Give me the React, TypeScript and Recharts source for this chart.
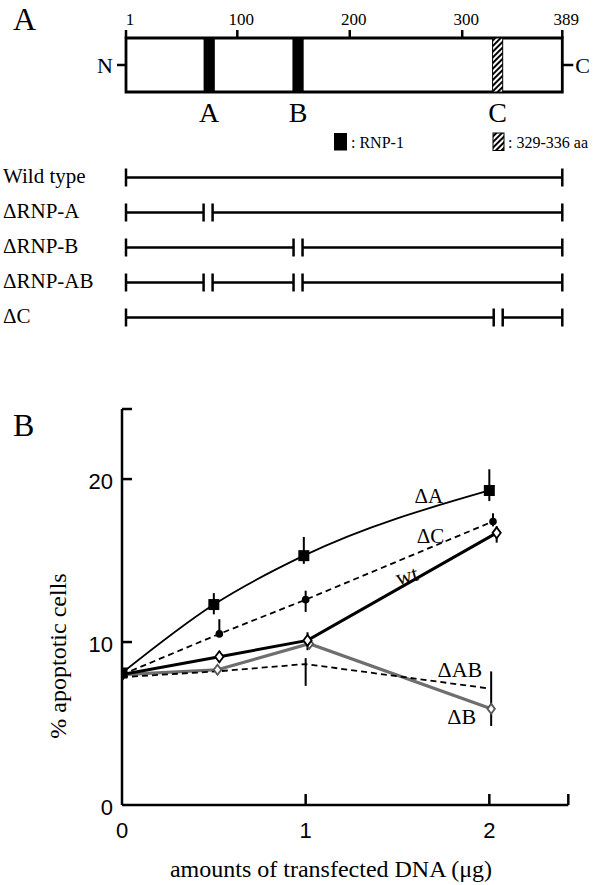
import React from 'react';
import {
  ComposedChart,
  LineChart,
  Line,
  XAxis,
  YAxis,
  ReferenceArea,
  ReferenceLine,
  ReferenceDot,
  ErrorBar,
  Label,
} from 'recharts';

const SERIF = '"Liberation Serif", "Times New Roman", serif';
const SANS = '"Liberation Sans", Arial, sans-serif';

// ---------------- Panel A data ----------------
const RESIDUE_RANGE = [1, 389];
const RESIDUE_TICKS = [1, 100, 200, 300, 389];
const TERMINI = [{ nTerm: 'N', cTerm: 'C' }];
const RNP_BLOCKS = [
  { name: 'A', from: 70, to: 80 },
  { name: 'B', from: 149, to: 159 },
];
const C_REGION = [{ name: 'C', from: 327, to: 336 }];
const LEGEND_TEXT = [': RNP-1', ': 329-336 aa'];
const CONSTRUCTS = ['Wild type', 'ΔRNP-A', 'ΔRNP-B', 'ΔRNP-AB', 'ΔC'];
const CONSTRUCT_SEGMENTS = [
  [[1, 389]],
  [[1, 70], [78, 389]],
  [[1, 150], [158, 389]],
  [[1, 70], [78, 150], [158, 389]],
  [[1, 328], [336, 389]],
];

// ---------------- Panel B data ----------------
const DOSE_DOMAIN = [0, 2.43];
const DOSE_TICKS = [0, 1, 2];
const PCT_DOMAIN = [0, 24.3];
const PCT_TICKS = [0, 10, 20];
const X_TITLE = 'amounts of transfected DNA (μg)';
const Y_TITLE = '% apoptotic cells';

const DELTA_A = [
  { dose: 0, pct: 8.1 },
  { dose: 0.5, pct: 12.3, err: [0.6, 0.7] },
  { dose: 0.99, pct: 15.3, err: [0.5, 1.15] },
  { dose: 2.0, pct: 19.3, err: [0.65, 1.3] },
];
const DELTA_C = [
  { dose: 0, pct: 8.0 },
  { dose: 0.53, pct: 10.5, err: [0.1, 0.9] },
  { dose: 1.0, pct: 12.6, err: [0.75, 0.55] },
  { dose: 2.02, pct: 17.4, err: [0.3, 0.5] },
];
const WT = [
  { dose: 0, pct: 8.0 },
  { dose: 0.53, pct: 9.1, err: [0.35, 0.35] },
  { dose: 1.01, pct: 10.1, err: [0.6, 0.5] },
  { dose: 2.04, pct: 16.7, err: [0.6, 0.4] },
];
const DELTA_B = [
  { dose: 0, pct: 8.0 },
  { dose: 0.52, pct: 8.3 },
  { dose: 1.02, pct: 9.9 },
  { dose: 2.01, pct: 5.9, err: [1.05, 2.3] },
];
const DELTA_AB = [
  { dose: 0, pct: 7.85 },
  { dose: 0.52, pct: 8.2 },
  { dose: 1.0, pct: 8.65, err: [1.34, 0.36] },
  { dose: 2.0, pct: 7.15 },
];

const SERIES_NAMES = ['ΔA', 'ΔC', 'wt', 'ΔAB', 'ΔB'];
const SERIES_LABEL_DOSE = [1.67, 1.68, 1.55, 1.84, 1.85];
const SERIES_LABEL_PCT = [19.0, 16.55, 14.1, 8.35, 5.45];

// ---------------- helpers ----------------
const SegmentShape = (p: any) => (
  <g>
    <line x1={p.x1} y1={p.y1} x2={p.x2} y2={p.y2} stroke="#000" strokeWidth={2.5} />
    <line x1={p.x1} y1={p.y1 - 9} x2={p.x1} y2={p.y1 + 9} stroke="#000" strokeWidth={2.5} />
    <line x1={p.x2} y1={p.y2 - 9} x2={p.x2} y2={p.y2 + 9} stroke="#000" strokeWidth={2.5} />
  </g>
);

const ConstructTick = (p: any) => (
  <text x={3} y={p.y + 5} fontFamily={SERIF} fontSize={21} fill="#000">
    {p.payload.value}
  </text>
);

const X_TICK_MARGIN = 17;
const XTick = (p: any) => {
  const v = p.payload.value;
  const axisY = p.y - X_TICK_MARGIN;
  return (
    <g>
      {v > 0 && <line x1={p.x} x2={p.x} y1={axisY} y2={axisY - 11} stroke="#000" strokeWidth={2.5} />}
      {DOSE_TICKS.includes(v) && (
        <text x={p.x} y={p.y} dy="0.72em" textAnchor="middle" fontFamily={SANS} fontSize={22} fill="#000">
          {v}
        </text>
      )}
    </g>
  );
};

const Y_TICK_MARGIN = 9;
const YTick = (p: any) => {
  const v = p.payload.value;
  const axisX = p.x + Y_TICK_MARGIN;
  return (
    <g>
      {v > 0 && <line x1={axisX} x2={axisX + 10} y1={p.y} y2={p.y} stroke="#000" strokeWidth={2.5} />}
      {PCT_TICKS.includes(v) && (
        <text x={p.x} y={p.y} dy="0.45em" textAnchor="end" fontFamily={SANS} fontSize={22} fill="#000">
          {v}
        </text>
      )}
    </g>
  );
};

const SquareDot = (p: any) =>
  p.cx == null ? null : <rect key={`sq${p.index}`} x={p.cx - 5.5} y={p.cy - 5.5} width={11} height={11} fill="#000" />;
const CircleDot = (p: any) =>
  p.cx == null ? null : <circle key={`ci${p.index}`} cx={p.cx} cy={p.cy} r={3.8} fill="#000" />;
const makeDiamond = (fill: string, stroke: string, r: number) => (p: any) =>
  p.cx == null ? null : (
    <polygon
      key={`di${p.index}`}
      points={`${p.cx},${p.cy - r} ${p.cx + r * 0.75},${p.cy} ${p.cx},${p.cy + r} ${p.cx - r * 0.75},${p.cy}`}
      fill={fill}
      stroke={stroke}
      strokeWidth={1.8}
    />
  );
const WtDot = makeDiamond('#fff', '#000', 5.5);
const DbDot = makeDiamond('#fff', '#555', 5);

const blockLabel = (name: string) => ({
  value: name,
  position: 'bottom' as const,
  offset: 10,
  fontFamily: SERIF,
  fontSize: 28,
  fill: '#000',
});

export default function App() {
  const constructRows = CONSTRUCTS.map((name) => ({ name }));
  return (
    <div style={{ position: 'absolute', left: 0, top: 0, width: 599, height: 885, background: '#fff' }}>
      {/* Panel A: protein map */}
      <div style={{ position: 'absolute', left: 0, top: 0 }}>
        <ComposedChart
          width={599}
          height={160}
          layout="vertical"
          data={TERMINI}
          margin={{ top: 8, right: 6.7, bottom: 68, left: 96 }}
        >
          <XAxis
            type="number"
            orientation="top"
            domain={RESIDUE_RANGE}
            ticks={RESIDUE_TICKS}
            interval={0}
            allowDataOverflow
            height={30}
            axisLine={false}
            tickSize={8}
            tickMargin={5}
            tickLine={{ stroke: '#000', strokeWidth: 2.5 }}
            tick={{ fontFamily: SERIF, fontSize: 17, fill: '#000', dx: 4 }}
          />
          <YAxis
            type="category"
            dataKey="nTerm"
            scale="band"
            width={30}
            axisLine={false}
            tickSize={9}
            tickMargin={4}
            tickLine={{ stroke: '#000', strokeWidth: 2.5 }}
            tick={{ fontFamily: SERIF, fontSize: 22, fill: '#000' }}
          />
          <YAxis
            yAxisId="c"
            type="category"
            dataKey="cTerm"
            scale="band"
            orientation="right"
            width={30}
            axisLine={false}
            tickSize={11}
            tickMargin={2}
            tickLine={{ stroke: '#000', strokeWidth: 2.5 }}
            tick={{ fontFamily: SERIF, fontSize: 22, fill: '#000' }}
          />
          <ReferenceArea
            x1={RESIDUE_RANGE[0]}
            x2={RESIDUE_RANGE[1]}
            fill="#fff"
            fillOpacity={1}
            stroke="#000"
            strokeWidth={2.8}
            ifOverflow="visible"
          />
          {RNP_BLOCKS.map((b) => (
            <ReferenceArea
              key={b.name}
              x1={b.from}
              x2={b.to}
              fill="#000"
              fillOpacity={1}
              ifOverflow="visible"
              label={blockLabel(b.name)}
            />
          ))}
          {C_REGION.map((b) => (
            <ReferenceArea
              key={b.name}
              x1={b.from}
              x2={b.to}
              fill="url(#hatchC)"
              fillOpacity={1}
              stroke="#000"
              strokeWidth={1}
              ifOverflow="visible"
              label={blockLabel(b.name)}
            />
          ))}
        </ComposedChart>
      </div>

      {/* Panel A: constructs */}
      <div style={{ position: 'absolute', left: 0, top: 160 }}>
        <ComposedChart
          width={599}
          height={180}
          layout="vertical"
          data={constructRows}
          margin={{ top: 17.5, right: 36.7, bottom: 22.5, left: 0 }}
        >
          <XAxis type="number" domain={RESIDUE_RANGE} allowDataOverflow hide />
          <YAxis
            type="category"
            dataKey="name"
            width={126}
            interval={0}
            axisLine={false}
            tickLine={false}
            tick={<ConstructTick />}
          />
          {CONSTRUCTS.map((name, i) =>
            CONSTRUCT_SEGMENTS[i].map((seg, j) => (
              <ReferenceLine
                key={`${name}-${j}`}
                segment={[
                  { x: seg[0], y: name },
                  { x: seg[1], y: name },
                ]}
                ifOverflow="visible"
                shape={SegmentShape}
              />
            ))
          )}
        </ComposedChart>
      </div>

      {/* Panel B */}
      <div style={{ position: 'absolute', left: 0, top: 380 }}>
        <LineChart width={599} height={505} margin={{ top: 29, right: 30.7, bottom: 20, left: 0 }}>
          <XAxis
            type="number"
            dataKey="dose"
            domain={DOSE_DOMAIN}
            ticks={[...DOSE_TICKS, DOSE_DOMAIN[1]]}
            interval={0}
            allowDataOverflow
            height={60}
            tickSize={0}
            tickMargin={X_TICK_MARGIN}
            tickLine={false}
            axisLine={{ stroke: '#000', strokeWidth: 2.5 }}
            tick={<XTick />}
          >
            <Label
              content={() => (
                <text x={331} y={497} textAnchor="middle" fontFamily={SERIF} fontSize={24} fill="#000">
                  {X_TITLE}
                </text>
              )}
            />
          </XAxis>
          <YAxis
            type="number"
            domain={PCT_DOMAIN}
            ticks={[...PCT_TICKS, PCT_DOMAIN[1]]}
            interval={0}
            allowDataOverflow
            width={122}
            tickSize={0}
            tickMargin={Y_TICK_MARGIN}
            tickLine={false}
            axisLine={{ stroke: '#000', strokeWidth: 2.5 }}
            tick={<YTick />}
          >
            <Label
              content={() => (
                <text
                  x={66}
                  y={276}
                  transform="rotate(-90 66 276)"
                  textAnchor="middle"
                  fontFamily={SERIF}
                  fontSize={24}
                  fill="#000"
                >
                  {Y_TITLE}
                </text>
              )}
            />
          </YAxis>

          <Line
            data={DELTA_B}
            dataKey="pct"
            type="linear"
            stroke="#6e6e6e"
            strokeWidth={3.2}
            dot={DbDot}
            activeDot={false}
            isAnimationActive={false}
          >
            <ErrorBar dataKey="err" direction="y" width={0} stroke="#000" strokeWidth={2} />
          </Line>
          <Line
            data={DELTA_AB}
            dataKey="pct"
            type="linear"
            stroke="#000"
            strokeWidth={1.8}
            strokeDasharray="6 4"
            dot={false}
            activeDot={false}
            isAnimationActive={false}
          >
            <ErrorBar dataKey="err" direction="y" width={0} stroke="#000" strokeWidth={2} />
          </Line>
          <Line
            data={WT}
            dataKey="pct"
            type="linear"
            stroke="#000"
            strokeWidth={3}
            dot={WtDot}
            activeDot={false}
            isAnimationActive={false}
          >
            <ErrorBar dataKey="err" direction="y" width={0} stroke="#000" strokeWidth={2} />
          </Line>
          <Line
            data={DELTA_C}
            dataKey="pct"
            type="linear"
            stroke="#000"
            strokeWidth={1.8}
            strokeDasharray="6 4"
            dot={CircleDot}
            activeDot={false}
            isAnimationActive={false}
          >
            <ErrorBar dataKey="err" direction="y" width={0} stroke="#000" strokeWidth={2} />
          </Line>
          <Line
            data={DELTA_A}
            dataKey="pct"
            type="monotone"
            stroke="#000"
            strokeWidth={1.8}
            dot={SquareDot}
            activeDot={false}
            isAnimationActive={false}
          >
            <ErrorBar dataKey="err" direction="y" width={0} stroke="#000" strokeWidth={2} />
          </Line>

          {SERIES_NAMES.map((name, i) => (
            <ReferenceDot
              key={name}
              x={SERIES_LABEL_DOSE[i]}
              y={SERIES_LABEL_PCT[i]}
              r={0}
              fill="none"
              stroke="none"
              label={{
                value: name,
                position: 'center',
                fontFamily: SERIF,
                fontSize: name === 'ΔA' || name === 'ΔC' ? 21 : 22,
                fill: '#000',
                angle: name === 'wt' ? -15 : 0,
              }}
            />
          ))}
        </LineChart>
      </div>

      {/* Panel letters, legend and hatch pattern */}
      <svg
        width={599}
        height={885}
        style={{ position: 'absolute', left: 0, top: 0, pointerEvents: 'none' }}
      >
        <defs>
          <pattern id="hatchC" patternUnits="userSpaceOnUse" width={4} height={4} patternTransform="rotate(45)">
            <rect width={4} height={4} fill="#fff" />
            <rect width={2} height={4} fill="#000" />
          </pattern>
        </defs>
        <text x={13} y={30} fontFamily={SERIF} fontSize={32} fill="#000">A</text>
        <text x={13} y={436} fontFamily={SERIF} fontSize={32} fill="#000">B</text>
        <rect x={334} y={133} width={13} height={17.5} fill="#000" />
        <text x={351} y={148} fontFamily={SERIF} fontSize={16} fill="#000">{LEGEND_TEXT[0]}</text>
        <rect x={493} y={133} width={11} height={17.5} fill="url(#hatchC)" stroke="#000" strokeWidth={1} />
        <text x={508} y={148} fontFamily={SERIF} fontSize={16} fill="#000">{LEGEND_TEXT[1]}</text>
      </svg>
    </div>
  );
}
